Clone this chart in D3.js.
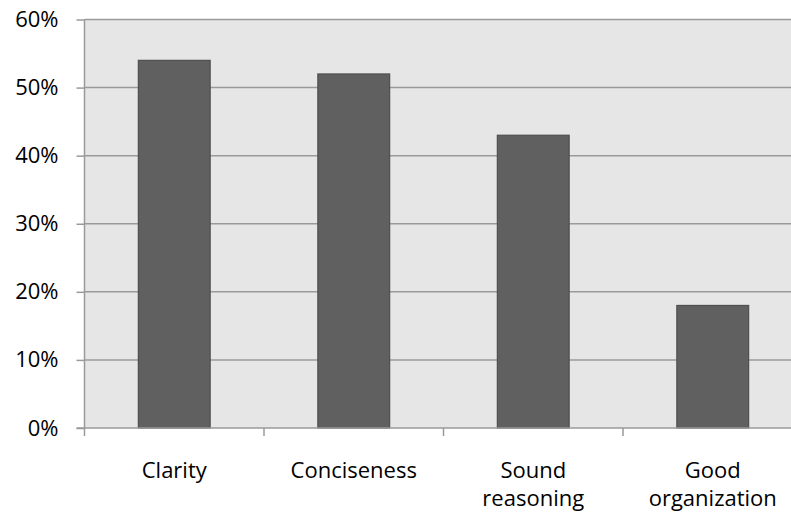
<!DOCTYPE html>
<html><head><meta charset="utf-8">
<script src="https://cdn.jsdelivr.net/npm/d3@7/dist/d3.min.js"></script>
<style>body{margin:0;background:#fff}svg{display:block}</style>
</head><body>
<svg id="c" width="791" height="517"></svg>
<script>
const categories = [["Clarity"],["Conciseness"],["Sound","reasoning"],["Good","organization"]];
const values = [0.54, 0.52, 0.43, 0.18];
const yTicks = [0, 0.1, 0.2, 0.3, 0.4, 0.5, 0.6];

const svg = d3.select("#c");
const L = 84.5, R = 802.5, T = 19.5, B = 428;
const font = "'Open Sans', sans-serif";
const x = d3.scaleBand().domain(d3.range(categories.length)).range([L, R]).paddingInner(0).paddingOuter(0);
const y = d3.scaleLinear().domain([0, 0.6]).range([B, T]);

svg.append("rect").attr("x", L).attr("y", T).attr("width", R - L).attr("height", B - T).attr("fill", "#e6e6e6");

// gridlines
svg.append("g").selectAll("line").data(yTicks.filter(d => d > 0)).join("line")
  .attr("x1", L).attr("x2", R).attr("y1", d => y(d)).attr("y2", d => y(d))
  .attr("stroke", "#9a9a9a").attr("stroke-width", 1.5);

// bars
const bw = x.bandwidth() * 0.4;
svg.append("g").selectAll("rect").data(values).join("rect")
  .attr("x", (d, i) => x(i) + (x.bandwidth() - bw) / 2)
  .attr("y", d => y(d)).attr("width", bw).attr("height", d => B - y(d))
  .attr("fill", "#606060").attr("stroke", "#4f4f4f").attr("stroke-width", 1.2);

// y axis
const ya = svg.append("g").attr("transform", `translate(${L},0)`)
  .call(d3.axisLeft(y).tickValues(yTicks).tickFormat(d3.format(".0%")).tickSize(8).tickPadding(18));
ya.select(".domain").attr("stroke", "#9a9a9a").attr("stroke-width", 1.5).attr("d", `M0,${T}V${B}`);
ya.selectAll(".tick line").attr("stroke", "#9a9a9a").attr("stroke-width", 1.5);
ya.selectAll("text").attr("font-family", font).attr("font-size", 22).attr("fill", "#000");

// x axis
const xa = svg.append("g").attr("transform", `translate(0,${B})`);
xa.append("line").attr("x1", L - 8).attr("x2", R).attr("stroke", "#9a9a9a").attr("stroke-width", 1.5);
const bounds = d3.range(categories.length + 1).map(i => i < categories.length ? x(i) : R);
xa.selectAll(".tk").data(bounds).join("line").attr("class", "tk")
  .attr("x1", d => d).attr("x2", d => d).attr("y1", 0).attr("y2", 8)
  .attr("stroke", "#9a9a9a").attr("stroke-width", 1.5);
const lbl = xa.selectAll(".lb").data(categories).join("text").attr("class", "lb")
  .attr("text-anchor", "middle").attr("font-family", font).attr("font-size", 22).attr("fill", "#000");
lbl.each(function(d, i) {
  const t = d3.select(this);
  d.forEach((s, k) => t.append("tspan").attr("x", x(i) + x.bandwidth() / 2).attr("y", 50 + k * 28).text(s));
});
</script>
</body></html>
